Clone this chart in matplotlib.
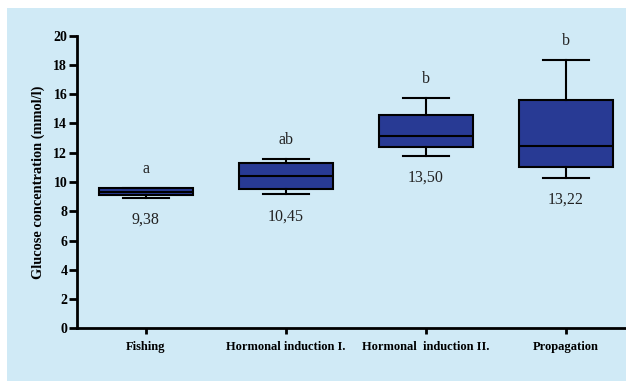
import matplotlib.pyplot as plt
from matplotlib.patches import Rectangle

# box statistics (mmol/l)
groups = ["Fishing", "Hormonal induction I.", "Hormonal  induction II.", "Propagation"]
whislo = [8.93, 9.16, 11.78, 10.30]
q1 = [9.11, 9.52, 12.41, 11.03]
med = [9.34, 10.41, 13.12, 12.46]
q3 = [9.59, 11.28, 14.58, 15.60]
whishi = [9.62, 11.55, 15.72, 18.34]
letters = ["a", "ab", "b", "b"]
means = ["9,38", "10,45", "13,50", "13,22"]

serif = ["Liberation Serif", "DejaVu Serif"]

fig = plt.figure(figsize=(6.26, 3.81), dpi=100, facecolor="white")
fig.patches.append(Rectangle((7 / 626, 0), 1, 1 - 8 / 381, transform=fig.transFigure,
                             facecolor="#d0eaf6", edgecolor="none", zorder=-10))

ax = fig.add_axes([77 / 626, 1 - 328.3 / 381, 1 - 77 / 626, (328.3 - 35.7) / 381])
ax.set_facecolor("none")
ax.set_zorder(5)

stats = []
for i in range(len(groups)):
    stats.append({"whislo": whislo[i], "q1": q1[i], "med": med[i],
                  "q3": q3[i], "whishi": whishi[i], "fliers": []})

pos = [1, 2, 3, 4]
ax.bxp(stats, positions=pos, widths=0.67, capwidths=0.33, patch_artist=True,
       showfliers=False,
       boxprops=dict(facecolor="#283a94", edgecolor="black", linewidth=1.5),
       medianprops=dict(color="black", linewidth=1.5),
       whiskerprops=dict(color="black", linewidth=1.5),
       capprops=dict(color="black", linewidth=1.5))

for i in range(len(groups)):
    ax.text(pos[i], whishi[i] + 1.3, letters[i], ha="center", va="center",
            fontsize=11.5, family=serif, color="#222222")
    ax.text(pos[i], whislo[i] - 1.5, means[i], ha="center", va="center",
            fontsize=11.5, family=serif, color="#222222")

ax.set_xlim(0.509, 4.431)
ax.set_ylim(0, 20)
ax.set_yticks(range(0, 21, 2))
ax.set_xticks(pos)
ax.set_xticklabels(groups)
for lab in ax.get_xticklabels():
    lab.set_family(serif)
    lab.set_fontweight("bold")
    lab.set_fontsize(9)
for lab in ax.get_yticklabels():
    lab.set_family(serif)
    lab.set_fontweight("bold")
    lab.set_fontsize(10)
ax.set_ylabel("Glucose concentration (mmol/l)", family=serif, fontweight="bold",
              fontsize=10.4, labelpad=6)

for s in ["top", "right"]:
    ax.spines[s].set_visible(False)
for s in ["left", "bottom"]:
    ax.spines[s].set_linewidth(2)
ax.tick_params(axis="y", width=2, length=6, pad=1)
ax.tick_params(axis="x", width=2, length=4, pad=5)

fig.savefig("out.png", dpi=100, facecolor=fig.get_facecolor())
